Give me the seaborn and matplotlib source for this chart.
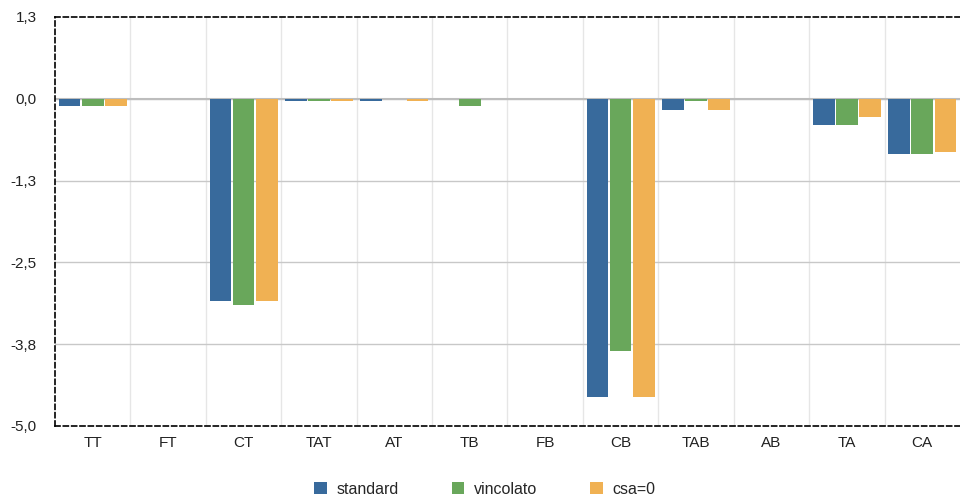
import matplotlib
matplotlib.use("Agg")
import matplotlib.pyplot as plt
import numpy as np
import pandas as pd
import seaborn as sns
from matplotlib.patches import Patch

# %% data
categories = ["TT", "FT", "CT", "TAT", "AT", "TB", "FB", "CB", "TAB", "AB", "TA", "CA"]
series = ["standard", "vincolato", "csa=0"]
standard = [-0.11, 0.0, -3.12, -0.03, -0.03, 0.0, 0.0, -4.59, -0.18, 0.0, -0.40, -0.85]
vincolato = [-0.11, 0.0, -3.18, -0.03, 0.0, -0.11, 0.0, -3.89, -0.03, 0.0, -0.40, -0.85]
csa0 = [-0.11, 0.0, -3.12, -0.03, -0.03, 0.0, 0.0, -4.59, -0.18, 0.0, -0.28, -0.82]
y_ticks = [1.26, 0.0, -1.26, -2.52, -3.78, -5.04]
y_tick_labels = ["1,3", "0,0", "-1,3", "-2,5", "-3,8", "-5,0"]

colors = ["#386a9c", "#69a75b", "#f0b153"]

df = pd.DataFrame(
    {
        "cat": categories * 3,
        "serie": [s for s in series for _ in categories],
        "val": standard + vincolato + csa0,
    }
)

# %%
sns.set_theme(style="white")
plt.rcParams["font.family"] = ["Liberation Sans", "DejaVu Sans"]

fig = plt.figure(figsize=(9.6, 5.01), dpi=100)
ax = fig.add_axes([55 / 960, 75 / 501, 905 / 960, 409 / 501])

sns.barplot(
    data=df,
    x="cat",
    y="val",
    hue="serie",
    order=categories,
    hue_order=series,
    palette=colors,
    saturation=1,
    width=0.92,
    gap=0.06,
    linewidth=0,
    legend=False,
    ax=ax,
    zorder=3,
)

ax.set_xlim(-0.5, len(categories) - 0.5)
ax.set_ylim(y_ticks[-1], y_ticks[0])
ax.set_yticks(y_ticks, y_tick_labels)
ax.set_xlabel("")
ax.set_ylabel("")

# horizontal grid + zero line
for y in y_ticks[1:-1]:
    ax.axhline(y, color="#c8c8c8", lw=1, zorder=1)
ax.axhline(0, color="#bdbdbd", lw=1.5, zorder=2)
# vertical separators between categories
for x in np.arange(0.5, len(categories) - 0.5, 1):
    ax.axvline(x, color="#e6e6e6", lw=1, zorder=0)

for side in ["top", "left", "bottom"]:
    ax.spines[side].set_visible(True)
    ax.spines[side].set_color("black")
    ax.spines[side].set_linewidth(1.2)
    ax.spines[side].set_linestyle((0, (3, 2)))
ax.spines["right"].set_visible(False)

ax.tick_params(axis="both", length=0, labelsize=11, colors="#222222")
ax.tick_params(axis="x", pad=7)
ax.tick_params(axis="y", pad=13)

handles = [Patch(facecolor=c, edgecolor="none", label=s) for c, s in zip(colors, series)]
fig.legend(
    handles=handles,
    loc="lower center",
    bbox_to_anchor=(0.505, -0.02),
    ncol=3,
    frameon=False,
    fontsize=11.5,
    handlelength=0.8,
    handleheight=0.8,
    handletextpad=0.6,
    columnspacing=3.3,
)

fig.savefig("out.png", dpi=100)
